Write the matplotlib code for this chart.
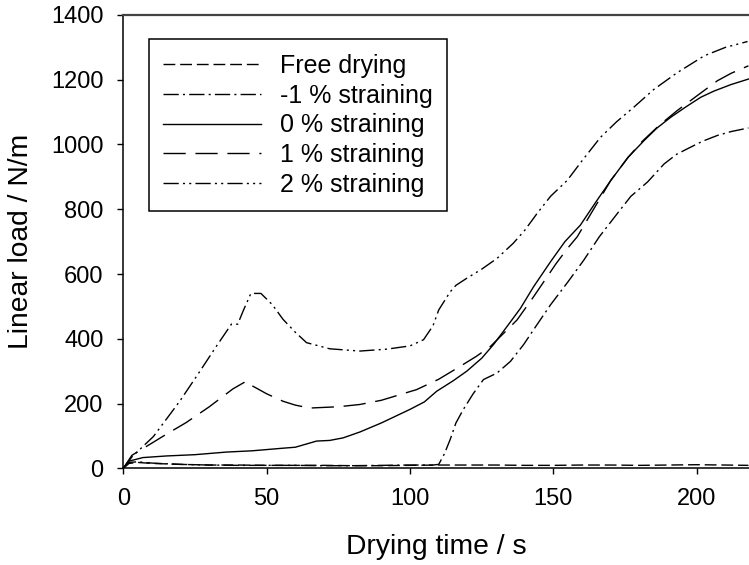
import matplotlib
matplotlib.use("Agg")
import matplotlib.pyplot as plt

plt.rcParams['font.family'] = ['Liberation Sans', 'DejaVu Sans']

# ---- data ----
free_x = [0, 2, 5, 10, 20, 30, 40, 50, 60, 70, 80, 90, 100, 110, 120, 130, 140,
          150, 160, 170, 180, 190, 200, 210, 218]
free_y = [0, 15, 18, 15, 12, 10, 10, 9, 9, 9, 8, 8, 9, 10, 10, 10, 9, 9, 10, 10,
          9, 10, 11, 10, 9]

m1_x = [0, 2, 5, 10, 20, 30, 40, 50, 60, 70, 80, 90, 100, 108, 110, 112, 114,
        116, 118.6, 122, 125.6, 130.3, 135, 139.6, 144, 149, 155, 160.6, 166,
        172.3, 177, 182.8, 188.6, 193, 197.9, 202, 207.2, 212, 218]
m1_y = [0, 18, 20, 16, 12, 10, 9, 9, 9, 8, 8, 9, 10, 10, 12, 45, 89, 140, 182,
        230, 274, 294, 330, 382, 440, 505, 575, 643, 715, 787, 840, 884, 940,
        970, 992, 1010, 1028, 1040, 1051]

p0_x = [0, 2, 6.8, 15, 25, 35.9, 45, 55.7, 60, 67.4, 72, 76.7, 82.5, 90, 100,
        105, 109.3, 115, 119.8, 125, 129.1, 134, 138.5, 143.1, 149, 154, 159.4,
        165, 170, 176, 181.6, 186, 190.9, 196, 201.4, 206, 211.9, 218]
p0_y = [0, 22, 33, 38, 42, 50, 54, 62, 65, 84, 86, 94, 112, 140, 182, 205, 238,
        270, 300, 340, 382, 440, 494, 561, 638, 700, 751, 825, 889, 960, 1012,
        1050, 1084, 1115, 1146, 1165, 1185, 1202]

p1_x = [0, 3, 10.2, 15, 21.9, 30, 38.2, 42.9, 45.1, 50, 55.7, 60, 65, 75, 82.5,
        90, 102.3, 110, 117.5, 123, 128, 133, 137.3, 143.1, 151, 155, 158.3, 164,
        170, 176, 181, 187, 193.2, 200, 207.2, 212, 218]
p1_y = [0, 40, 79, 105, 141, 190, 245, 269, 254, 230, 207, 195, 186, 190, 197,
        210, 243, 275, 315, 345, 376, 420, 458, 530, 633, 680, 715, 800, 889,
        960, 1010, 1060, 1105, 1150, 1197, 1220, 1243]

p2_x = [0, 3, 10.5, 19.6, 26, 32.4, 37.7, 39.9, 42, 44.5, 48, 52, 55.7, 60,
        63.9, 72, 82.5, 92, 100, 104.7, 108, 110, 114, 116, 119.8, 125, 130.3,
        136, 140, 144.3, 149, 154.8, 160, 166.4, 172, 178, 185, 193.2, 202.6,
        210, 217.7]
p2_y = [0, 35, 98, 206, 290, 376, 445, 445, 490, 540, 540, 505, 460, 420, 388,
        369, 362, 368, 378, 397, 440, 489, 545, 565, 587, 615, 648, 695, 735,
        787, 840, 889, 950, 1022, 1070, 1115, 1170, 1222, 1274, 1300, 1318]

labels = ["Free drying", "-1 % straining", "0 % straining", "1 % straining",
          "2 % straining"]
x_ticks = [0, 50, 100, 150, 200]
y_ticks = [0, 200, 400, 600, 800, 1000, 1200, 1400]

# ---- figure ----
fig = plt.figure(figsize=(7.49, 5.65), dpi=100)
ax = fig.add_axes([0.1646, 0.1712, 0.8354, 0.8023])

lw = 1.0
ax.plot(free_x, free_y, color='black', lw=lw, dashes=[8.5, 3.5], label=labels[0])
ax.plot(m1_x, m1_y, color='black', lw=lw, dashes=[11, 3, 1.5, 3], label=labels[1])
ax.plot(p0_x, p0_y, color='black', lw=lw, linestyle='-', label=labels[2])
ax.plot(p1_x, p1_y, color='black', lw=lw, dashes=[16, 7], label=labels[3])
ax.plot(p2_x, p2_y, color='black', lw=lw, dashes=[11, 3, 1.5, 3, 1.5, 3],
        label=labels[4])

ax.set_xlim(0, 218.2)
ax.set_ylim(0, 1400)
ax.set_xticks(x_ticks)
ax.set_yticks(y_ticks)
ax.tick_params(direction='out', length=4.3, width=1, labelsize=17, pad=10,
               top=False, right=False, color='black')

ax.spines['right'].set_visible(False)
ax.spines['left'].set_linewidth(1.1)
ax.spines['bottom'].set_linewidth(1.1)
ax.spines['top'].set_linewidth(1.6)
ax.spines['top'].set_color('#444444')

ax.set_xlabel("Drying time / s", fontsize=20.3, labelpad=17)
ax.set_ylabel("Linear load / N/m", fontsize=20.3, labelpad=12)

leg = ax.legend(loc='upper left', bbox_to_anchor=(0.0405, 0.9464),
                borderaxespad=0, fontsize=18, handlelength=3.9,
                handletextpad=0.78, labelspacing=0.23, borderpad=0.58,
                fancybox=False, framealpha=1, edgecolor='black')
leg.get_frame().set_linewidth(1.1)

fig.savefig("out.png", dpi=100)
